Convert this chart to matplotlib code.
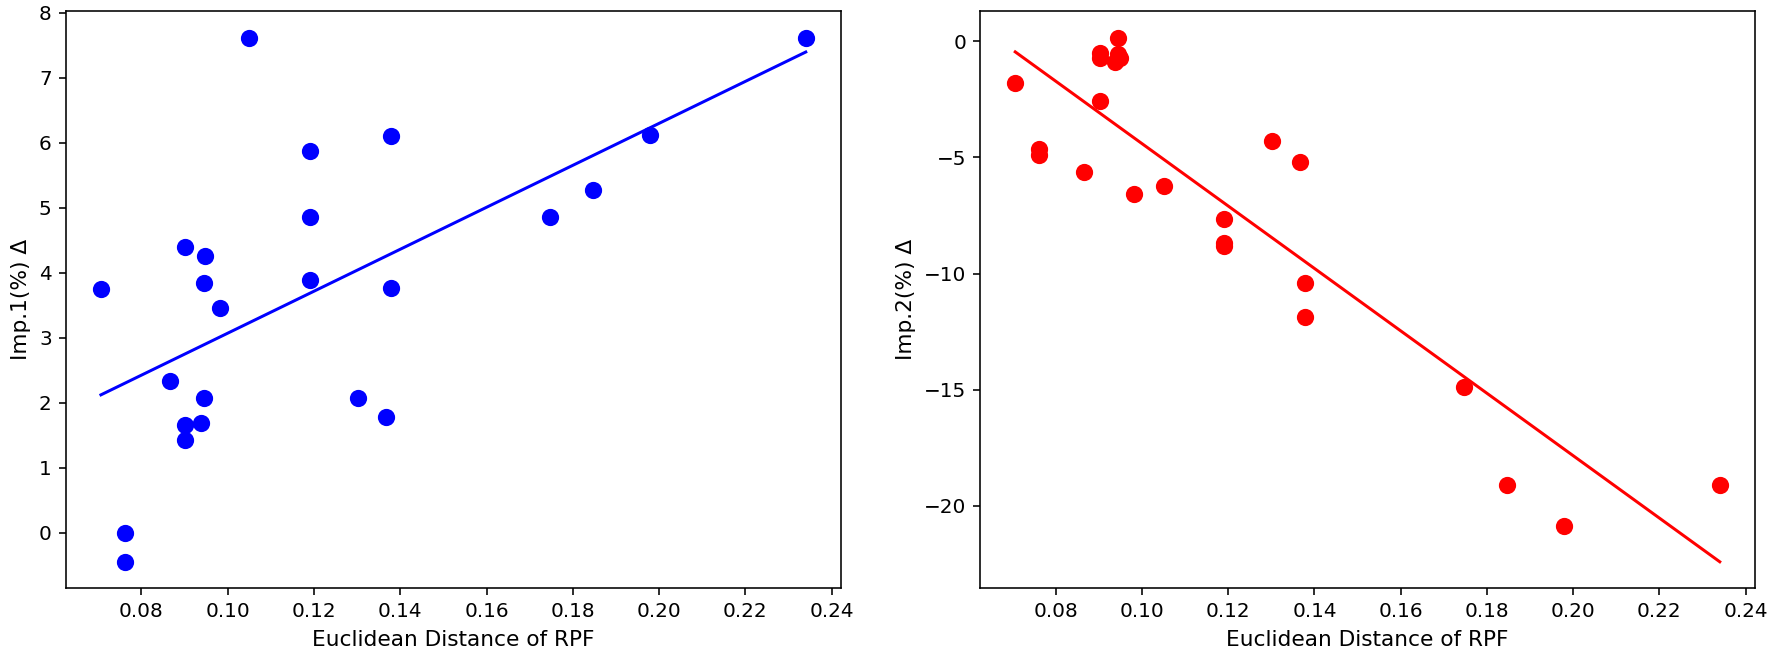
import numpy as np
import matplotlib
matplotlib.use("Agg")
import matplotlib.pyplot as plt

# Data
dist = [0.0706, 0.0762, 0.0762, 0.0866, 0.0902, 0.0902, 0.0902, 0.0937,
        0.0944, 0.0945, 0.0948, 0.0982, 0.1050, 0.1190, 0.1190, 0.1190,
        0.1301, 0.1366, 0.1378, 0.1378, 0.1747, 0.1847, 0.1978, 0.2340]
imp1 = [3.745, 0.0, -0.45, 2.33, 4.39, 1.65, 1.42, 1.68,
        3.84, 2.07, 4.26, 3.46, 7.62, 5.88, 4.85, 3.89,
        2.07, 1.78, 6.11, 3.77, 4.86, 5.27, 6.12, 7.62]
imp2 = [-1.82, -4.64, -4.89, -5.62, -0.49, -0.73, -2.56, -0.92,
        0.155, -0.56, -0.73, -6.57, -6.24, -7.64, -8.67, -8.83,
        -4.31, -5.18, -10.42, -11.86, -14.89, -19.08, -20.88, -19.08]

xlabel = "Euclidean Distance of RPF"
ylabel1 = "Imp.1(%) Δ"
ylabel2 = "Imp.2(%) Δ"
xticks = [0.08, 0.10, 0.12, 0.14, 0.16, 0.18, 0.20, 0.22, 0.24]
yticks1 = [0, 1, 2, 3, 4, 5, 6, 7, 8]
yticks2 = [0, -5, -10, -15, -20]

W, H, DPI = 1773, 655, 144
fig = plt.figure(figsize=(W / DPI, H / DPI), dpi=DPI)

ax1 = fig.add_axes([65.7 / W, 1 - 588 / H, (841 - 65.7) / W, (588 - 11.3) / H])
ax2 = fig.add_axes([980 / W, 1 - 588 / H, (1755 - 980) / W, (588 - 11.3) / H])

x = np.array(dist)
xs = np.array([x.min(), x.max()])
for ax, y, col, yl, yt in [(ax1, imp1, "blue", ylabel1, yticks1),
                           (ax2, imp2, "red", ylabel2, yticks2)]:
    y = np.array(y)
    ax.scatter(x, y, s=58, color=col, zorder=3)
    k, b = np.polyfit(x, y, 1)
    ax.plot(xs, k * xs + b, color=col, lw=1.5)
    ax.set_xticks(xticks)
    ax.set_yticks(yt)
    ax.set_xlabel(xlabel, fontsize=10.8, labelpad=4.5)
    ax.set_ylabel(yl, fontsize=10.8)

fig.savefig("out.png", dpi=DPI)
